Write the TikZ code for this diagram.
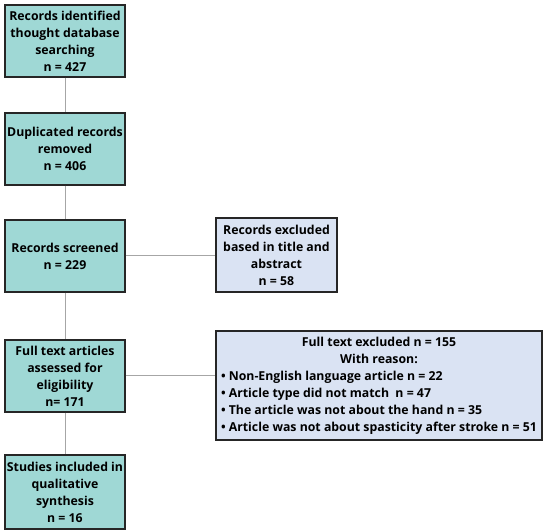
\documentclass[tikz,border=0pt]{standalone}
\usepackage{fontspec}
\setmainfont{Open Sans}
\definecolor{tealc}{HTML}{9FD8D5}
\definecolor{bluec}{HTML}{DAE3F3}
\definecolor{bordc}{HTML}{262626}
\definecolor{linec}{HTML}{A6A6A6}
\begin{document}
\begin{tikzpicture}[x=1pt,y=-1pt,
  txt/.style={font=\fontsize{12.3}{17}\selectfont\bfseries},
  box/.style={txt, draw=bordc, line width=1.1pt, fill=tealc, minimum width=120pt, minimum height=72pt, align=center, inner sep=1pt},
  rbox/.style={txt, draw=bordc, line width=1.1pt, fill=bluec, align=center, inner sep=1pt},
  conn/.style={draw=linec, line width=1pt}]
\useasboundingbox (0,0) rectangle (550,532);
\node[box] (b1) at (65,41) {Records identified\\thought database\\searching\\n = 427};
\node[box] (b2) at (65,149) {Duplicated records\\removed\\n = 406};
\node[box] (b3) at (65,256) {Records screened\\n = 229};
\node[box] (b4) at (65,376) {Full text articles\\assessed for\\eligibility\\n= 171};
\node[box, minimum height=74pt] (b5) at (65,492) {Studies included in\\qualitative\\synthesis\\n = 16};
\node[rbox, minimum width=121pt, minimum height=74pt] (r1) at (276.5,255) {Records excluded\\based in title and\\abstract\\n = 58};
\node[rbox, minimum width=326pt, minimum height=109pt] (r2) at (379,385.5)
  {\begin{tabular}{@{}l@{}}
   \multicolumn{1}{@{}c@{}}{Full text excluded n = 155}\\
   \multicolumn{1}{@{}c@{}}{With reason:}\\
   \textbullet\ Non-English language article n = 22\\
   \textbullet\ Article type did not match~ n = 47\\
   \textbullet\ The article was not about the hand n = 35\\
   \textbullet\ Article was not about spasticity after stroke n = 51
   \end{tabular}};
\draw[conn] (b1.south) -- (b2.north);
\draw[conn] (b2.south) -- (b3.north);
\draw[conn] (b3.south) -- (b4.north);
\draw[conn] (b4.south) -- (b5.north);
\draw[conn] (b3.east) -- (b3.east -| r1.west);
\draw[conn] (b4.east) -- (b4.east -| r2.west);
\end{tikzpicture}
\end{document}
